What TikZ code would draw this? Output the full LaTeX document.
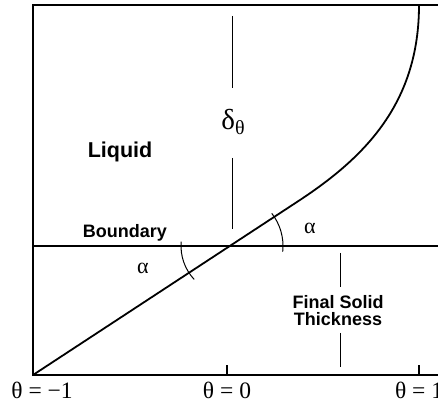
\documentclass[tikz,border=0pt]{standalone}
\usepackage{fontspec}
\setmainfont{Liberation Serif}
\newfontfamily\labelfont{Liberation Sans}
\usetikzlibrary{positioning}

\begin{document}
\begin{tikzpicture}[
    x=1pt, y=1pt,
    frame/.style={line width=2pt},
    guide/.style={line width=0.8pt},
    tag/.style={font=\labelfont\bfseries\fontsize{18}{17}\selectfont, align=center, inner sep=0pt},
    greek/.style={font=\fontsize{22}{22}\selectfont, inner sep=0pt}
]
\useasboundingbox (0,0) rectangle (438,403);
\clip (0,0) rectangle (438,403);

\coordinate (bl) at (33,28);
\coordinate (tl) at (33,398);
\coordinate (tr) at (445,398);
\coordinate (br) at (445,28);
\coordinate (bdl) at (33,157);
\coordinate (bdr) at (445,157);
\coordinate (front) at (230,157);
\coordinate (bend) at (300,203);
\coordinate (tip) at (419,398);
\coordinate (tk0) at (227,28);
\coordinate (tk1) at (419,28);

\draw[frame] (br) -- (bl) -- (tl) -- (tr);
\draw[line width=1.5pt] (bdl) -- (bdr);
\draw[frame] (tk0) -- ++(0,10);
\draw[frame] (tk1) -- ++(0,10);
\draw[line width=1.8pt] (bl) -- (bend) .. controls (365,246) and (419,300) .. (tip);

\node[greek, font=\fontsize{29}{29}\selectfont] (delta) at (233,281) {δ\raisebox{-0.35ex}{\fontsize{20}{20}\selectfont θ}};
\draw[guide] (232,387) -- (232,315);
\draw[guide] (232,245) -- (232,174);

\node[tag, font=\labelfont\bfseries\fontsize{21.5}{21.5}\selectfont] (liquid) at (120,251) {Liquid};
\node[tag] (boundary) at (125,170) {Boundary};
\node[tag] (solid) at (338,92) {Final Solid\\Thickness};
\draw[guide] (340,150) -- (340,116);
\draw[guide] (340,70) -- (340,36);

\draw[line width=1pt] (front) ++(38:53) arc[start angle=38, end angle=-6, radius=53];
\draw[line width=1pt] (front) ++(175:49) arc[start angle=175, end angle=223, radius=49];
\node[greek] (alphaup) at (310,175) {α};
\node[greek] (alphalow) at (143,135) {α};

\node[greek, font=\fontsize{23.5}{23.5}\selectfont] (lm1) at (42,13) {θ = −1};
\node[greek, font=\fontsize{23.5}{23.5}\selectfont] (l0) at (227,13) {θ = 0};
\node[greek, font=\fontsize{23.5}{23.5}\selectfont] (l1) at (419,13) {θ = 1};
\end{tikzpicture}
\end{document}
